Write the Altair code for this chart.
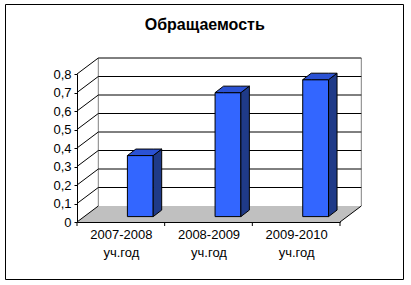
import altair as alt
import pandas as pd

# ---- data ----
categories = ["2007-2008 уч.год", "2008-2009 уч.год", "2009-2010 уч.год"]
values = [0.33, 0.67, 0.74]
y_ticks = [0, 0.1, 0.2, 0.3, 0.4, 0.5, 0.6, 0.7, 0.8]
title_text = "Обращаемость"

# ---- layout / geometry constants (pixels) ----
W, H = 263, 148
YMAX = 0.8
ux = W / 3.0
uy = H / YMAX
FDX, FDY = 21.3, 16.0       # wall depth
BL, BW = 50.4, 25.8         # bar left offset within category, bar width
BDX, BDY = 8.5, 6.5         # bar depth
BRAISE = 5.4                # bar base raised above front edge

fdx, fdy = FDX / ux, FDY / uy
bl, bw = BL / ux, BW / ux
bdx, bdy = BDX / ux, BDY / uy
br = BRAISE / uy

FONT = "Liberation Sans"
xs = alt.Scale(domain=[0, 3], nice=False, zero=False)
ys = alt.Scale(domain=[0, YMAX], nice=False, zero=False)

label_expr = "split(datum.value < 1 ? '%s' : (datum.value < 2 ? '%s' : '%s'), ' ')" % tuple(categories)
x_axis = alt.Axis(
    values=[0.5, 1.5, 2.5], labelExpr=label_expr, title="", grid=False,
    ticks=False, domainColor="black", domainWidth=1, labelFont=FONT,
    labelFontSize=13, labelColor="black", labelAngle=0, labelPadding=6,
    labelLineHeight=18, labelFlush=False, labelOverlap=False,
)
y_axis = alt.Axis(
    values=y_ticks, labelExpr="replace(format(datum.value, '~g'), '.', ',')", title="",
    grid=False, tickSize=3, tickColor="black", domainColor="black",
    domainWidth=1, labelFont=FONT, labelFontSize=13, labelColor="black",
    labelPadding=3, labelFlush=False, labelOverlap=False,
)


def X(f):
    return alt.X(f, scale=xs, axis=x_axis)


def Y(f):
    return alt.Y(f, scale=ys, axis=y_axis)


# floor parallelogram
floor_df = pd.DataFrame({
    "x": [0, fdx, 3, 3 + fdx],
    "yt": [0, fdy, fdy, fdy],
    "yb": [0, 0, 0, fdy],
})
floor = alt.Chart(floor_df).mark_area(color="#C0C0C0", interpolate="linear").encode(
    x=X("x:Q"), y=Y("yt:Q"), y2="yb:Q",
)

floor_edge = alt.Chart(pd.DataFrame({"x": [3], "x2": [3 + fdx], "y": [0], "y2": [fdy]})).mark_rule(
    color="black", strokeWidth=1
).encode(x=X("x:Q"), x2="x2:Q", y=Y("y:Q"), y2="y2:Q")

# back wall side edges (gray)
wall_edges = alt.Chart(pd.DataFrame({
    "x": [fdx, 3 + fdx], "y": [fdy, fdy], "y2": [YMAX + fdy, YMAX + fdy]
})).mark_rule(color="#808080", strokeWidth=1).encode(
    x=X("x:Q"), y=Y("y:Q"), y2="y2:Q",
)

# back wall gridlines
grid_df = pd.DataFrame({
    "x": [fdx] * (len(y_ticks) - 1),
    "x2": [3 + fdx] * (len(y_ticks) - 1),
    "y": [v + fdy for v in y_ticks[1:]],
})
grid = alt.Chart(grid_df).mark_rule(color="black", strokeWidth=1).encode(
    x=X("x:Q"), x2="x2:Q", y=Y("y:Q"),
)

# side wall diagonals
diag_df = pd.DataFrame({
    "x": [0] * len(y_ticks),
    "x2": [fdx] * len(y_ticks),
    "y": y_ticks,
    "y2": [v + fdy for v in y_ticks],
})
diag = alt.Chart(diag_df).mark_rule(color="black", strokeWidth=1).encode(
    x=X("x:Q"), x2="x2:Q", y=Y("y:Q"), y2="y2:Q",
)

# x tick marks at category boundaries
xt = alt.Chart(pd.DataFrame({"x": [0, 1, 2, 3], "y": [0, 0, 0, 0]})).mark_rule(
    color="black", strokeWidth=1, y2Offset=4
).encode(x=X("x:Q"), y=Y("y:Q"), y2="y:Q")

# bars: front faces
front_df = pd.DataFrame({
    "cat": categories,
    "x": [i + bl for i in range(3)],
    "x2": [i + bl + bw for i in range(3)],
    "y": [br] * 3,
    "y2": [v + br for v in values],
})
front = alt.Chart(front_df).mark_rect(
    fill="#3366FF", stroke="black", strokeWidth=1
).encode(x=X("x:Q"), x2="x2:Q", y=Y("y:Q"), y2="y2:Q")

# bars: side faces
side_rows = []
for i, v in enumerate(values):
    R = i + bl + bw
    side_rows.append({"bar": i, "x": R, "yt": v + br, "yb": br})
    side_rows.append({"bar": i, "x": R + bdx, "yt": v + br + bdy, "yb": br + bdy})
side = alt.Chart(pd.DataFrame(side_rows)).mark_area(
    fill="#1F3A88", stroke="black", strokeWidth=1, interpolate="linear"
).encode(x=X("x:Q"), y=Y("yt:Q"), y2="yb:Q", detail="bar:N")

# bars: top faces
top_rows = []
for i, v in enumerate(values):
    L = i + bl
    R = L + bw
    T = v + br
    top_rows += [
        {"bar": i, "x": L, "yt": T, "yb": T},
        {"bar": i, "x": L + bdx, "yt": T + bdy, "yb": T},
        {"bar": i, "x": R, "yt": T + bdy, "yb": T},
        {"bar": i, "x": R + bdx, "yt": T + bdy, "yb": T + bdy},
    ]
top = alt.Chart(pd.DataFrame(top_rows)).mark_area(
    fill="#2B52D4", stroke="black", strokeWidth=1, interpolate="linear"
).encode(x=X("x:Q"), y=Y("yt:Q"), y2="yb:Q", detail="bar:N")

# outer frame of the chart
frame = alt.Chart(pd.DataFrame({"a": [0]})).mark_rect(
    fillOpacity=0, stroke="black", strokeWidth=1
).encode(
    x=alt.value(-71.5), x2=alt.value(326.5), y=alt.value(-69.5), y2=alt.value(205.5)
)

# chart title (text mark inside the frame)
title = alt.Chart(pd.DataFrame({"t": [title_text]})).mark_text(
    font=FONT, fontSize=16, fontWeight="bold", color="black",
    align="center", baseline="alphabetic"
).encode(text="t:N", x=alt.value(127.7), y=alt.value(-44))

chart = alt.layer(
    floor, wall_edges, grid, diag, floor_edge, xt, front, side, top, frame, title
).properties(
    width=W, height=H,
    autosize=alt.AutoSizeParams(type="none"),
    padding={"left": 77, "top": 74, "right": 71, "bottom": 63},
    background="white",
).configure_view(stroke="transparent")

chart.save("out.html", embed_options={"renderer": "svg", "actions": False})
